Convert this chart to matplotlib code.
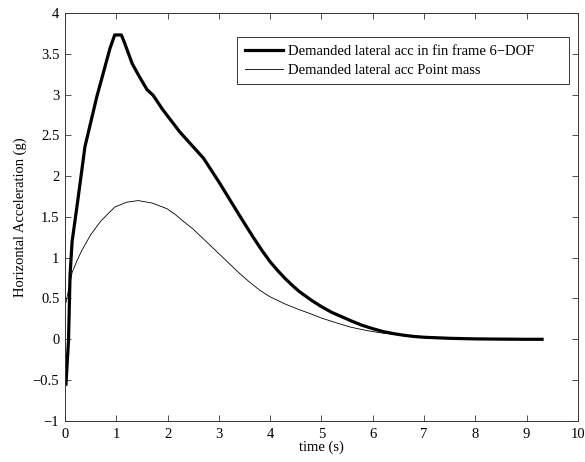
import matplotlib
matplotlib.use("Agg")
import matplotlib.pyplot as plt

plt.rcParams['font.family'] = ['Liberation Serif', 'DejaVu Serif']
plt.rcParams['font.size'] = 10.5

# Demanded lateral acceleration, 6-DOF model (fin frame)
t_6dof = [0.02, 0.07, 0.10, 0.14, 0.25, 0.39, 0.62, 0.88, 0.97, 1.10, 1.17,
          1.31, 1.45, 1.60, 1.72, 1.90, 2.24, 2.70, 3.02, 3.40, 3.67, 3.85,
          4.00, 4.15, 4.30, 4.45, 4.58, 4.80, 5.00, 5.20, 5.42, 5.60, 5.80,
          6.00, 6.20, 6.40, 6.60, 6.80, 7.00, 7.50, 8.00, 8.50, 9.00, 9.30]
acc_6dof = [-0.55, -0.01, 0.79, 1.20, 1.70, 2.36, 2.97, 3.57, 3.73, 3.73, 3.62,
            3.38, 3.22, 3.06, 2.99, 2.82, 2.54, 2.22, 1.91, 1.52, 1.25, 1.08,
            0.95, 0.84, 0.74, 0.65, 0.58, 0.48, 0.40, 0.33, 0.27, 0.22, 0.17,
            0.13, 0.095, 0.07, 0.05, 0.035, 0.025, 0.012, 0.005, 0.002, 0.00,
            0.00]

# Demanded lateral acceleration, point-mass model
t_pm = [0.02, 0.14, 0.24, 0.33, 0.50, 0.70, 0.97, 1.20, 1.43, 1.70, 1.99,
        2.15, 2.30, 2.50, 2.70, 2.85, 3.00, 3.20, 3.40, 3.60, 3.80, 4.00,
        4.30, 4.58, 4.80, 5.00, 5.30, 5.56, 5.90, 6.20, 6.60, 7.00, 7.50,
        8.00, 9.00, 9.30]
acc_pm = [0.45, 0.82, 0.97, 1.09, 1.28, 1.45, 1.62, 1.68, 1.70, 1.67, 1.60,
          1.53, 1.45, 1.35, 1.23, 1.14, 1.05, 0.93, 0.81, 0.70, 0.60, 0.52,
          0.43, 0.36, 0.31, 0.26, 0.20, 0.15, 0.105, 0.075, 0.045, 0.025,
          0.012, 0.005, 0.00, 0.00]

fig = plt.figure(figsize=(5.85, 4.62), dpi=100)
ax = fig.add_axes([0.111, 0.089, 0.877, 0.883])

ax.plot(t_6dof, acc_6dof, color='black', lw=2.3,
        label='Demanded lateral acc in fin frame 6\u2212DOF')
ax.plot(t_pm, acc_pm, color='black', lw=0.6,
        label='Demanded lateral acc Point mass')

ax.set_xlim(0, 10)
ax.set_ylim(-1, 4)
ax.set_xticks(range(0, 11))
ax.set_yticks([-1, -0.5, 0, 0.5, 1, 1.5, 2, 2.5, 3, 3.5, 4])
ax.set_yticklabels(['\u22121', '\u22120.5', '0', '0.5', '1', '1.5', '2',
                    '2.5', '3', '3.5', '4'])
ax.tick_params(direction='in', top=True, right=True, length=4, width=0.6,
               colors='#333333', labelcolor='black')
ax.tick_params(axis='x', pad=5)
ax.tick_params(axis='y', pad=4)
for s in ax.spines.values():
    s.set_linewidth(0.7)
    s.set_color('#333333')

ax.set_xlabel('time (s)', labelpad=0)
ax.set_ylabel('Horizontal Acceleration (g)', labelpad=4)

# legend box stretched across the upper right region
leg = ax.legend(loc='upper left', bbox_to_anchor=(0.322, 0.80, 0.674, 0.158),
                mode='expand', fancybox=False, framealpha=1,
                edgecolor='#333333', handlelength=2.6, borderpad=0.5,
                labelspacing=0.38, handletextpad=0.35)
leg.get_frame().set_linewidth(0.7)

fig.savefig('out.png', dpi=100)
